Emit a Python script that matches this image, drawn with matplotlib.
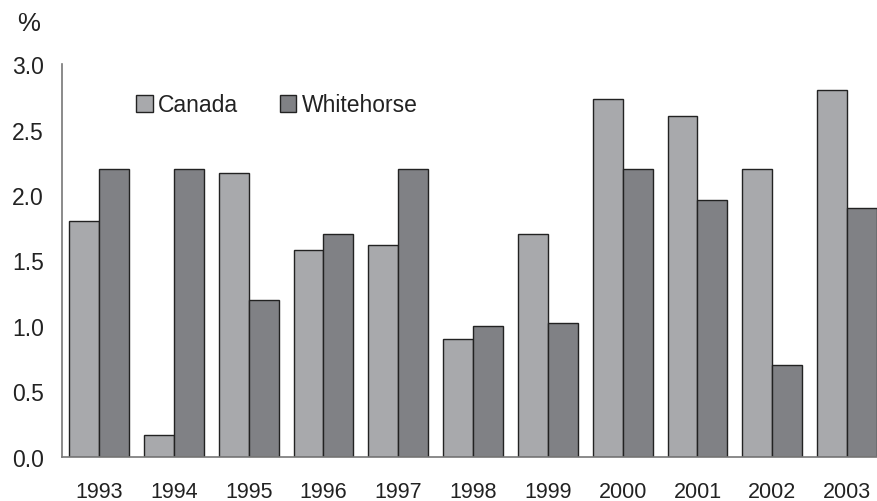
import matplotlib
matplotlib.use("Agg")
import matplotlib.pyplot as plt
import numpy as np

years = ["1993", "1994", "1995", "1996", "1997", "1998", "1999", "2000", "2001", "2002", "2003"]
canada = [1.80, 0.17, 2.17, 1.58, 1.62, 0.90, 1.70, 2.73, 2.60, 2.20, 2.80]
whitehorse = [2.20, 2.20, 1.20, 1.70, 2.20, 1.00, 1.02, 2.20, 1.96, 0.70, 1.90]
yticks = [0.0, 0.5, 1.0, 1.5, 2.0, 2.5, 3.0]

plt.rcParams['font.family'] = ['Liberation Sans', 'DejaVu Sans']

fig = plt.figure(figsize=(8.77, 5.02), dpi=100)
ax = fig.add_axes([62/877, 1 - 458/502, 1 - 62/877, (458 - 65)/502])

x = np.arange(len(years))
w = 0.4
c_col = "#a8a9ac"
w_col = "#808185"
ax.bar(x - w/2, canada, width=w, color=c_col, edgecolor="#222222", linewidth=1.0, label="Canada")
ax.bar(x + w/2, whitehorse, width=w, color=w_col, edgecolor="#222222", linewidth=1.0, label="Whitehorse")

ax.set_xlim(-0.495, 10.40)
ax.set_ylim(0, 3.0)
ax.set_yticks(yticks)
ax.set_yticklabels([f"{v:.1f}" for v in yticks])
ax.set_xticks(x)
ax.set_xticklabels(years)
ax.tick_params(axis='both', length=0, labelsize=16.5, colors="#222222")
ax.tick_params(axis='y', pad=13)
ax.tick_params(axis='x', pad=17, labelsize=15.5)

for s in ["top", "right"]:
    ax.spines[s].set_visible(False)
for s in ["left", "bottom"]:
    ax.spines[s].set_color("#777777")
    ax.spines[s].set_linewidth(1.2)

fig.text(17/877, 1 - 24/502, "%", fontsize=18.5, color="#222222", ha="left", va="center")

leg = ax.legend(loc="center left", bbox_to_anchor=(136/877, 1 - 106/502), bbox_transform=fig.transFigure,
                ncol=2, frameon=False, fontsize=16.5, handlelength=0.72, handleheight=0.72,
                handletextpad=0.25, columnspacing=1.8, borderpad=0, borderaxespad=0)
for t in leg.get_texts():
    t.set_color("#222222")

fig.savefig("out.png", dpi=100)
